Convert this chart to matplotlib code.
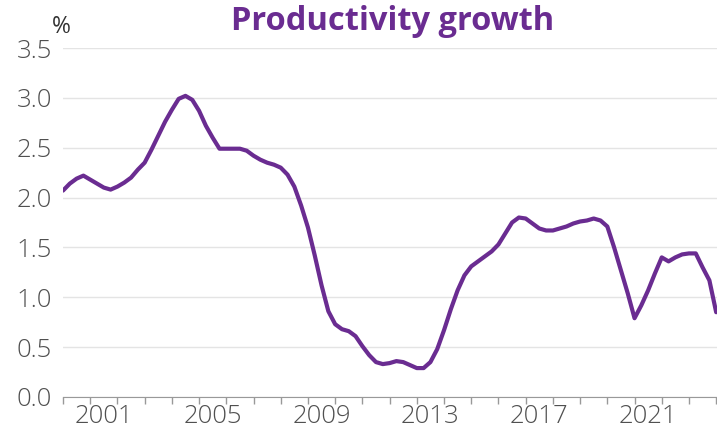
import numpy as np
import matplotlib.pyplot as plt

# Quarterly productivity growth (%), 2000Q1 onward
start_year = 2000
growth = [
    2.07, 2.14, 2.19, 2.22, 2.18, 2.14, 2.10, 2.08,
    2.11, 2.15, 2.20, 2.28, 2.35, 2.48, 2.62, 2.76,
    2.88, 2.99, 3.02, 2.98, 2.87, 2.72, 2.60, 2.49,
    2.49, 2.49, 2.49, 2.47, 2.42, 2.38, 2.35, 2.33,
    2.30, 2.23, 2.11, 1.92, 1.70, 1.42, 1.12, 0.86,
    0.73, 0.68, 0.66, 0.61, 0.51, 0.42, 0.35, 0.33,
    0.34, 0.36, 0.35, 0.32, 0.29, 0.29, 0.35, 0.48,
    0.67, 0.88, 1.07, 1.22, 1.31, 1.36, 1.41, 1.46,
    1.53, 1.64, 1.75, 1.80, 1.79, 1.74, 1.69, 1.67,
    1.67, 1.69, 1.71, 1.74, 1.76, 1.77, 1.79, 1.77,
    1.71, 1.50, 1.27, 1.04, 0.79, 0.92, 1.07, 1.24,
    1.40, 1.36, 1.40, 1.43, 1.44, 1.44, 1.30, 1.17,
    0.85,
]
label_years = [2001, 2005, 2009, 2013, 2017, 2021]
y_ticks = [0.0, 0.5, 1.0, 1.5, 2.0, 2.5, 3.0, 3.5]

purple = '#6a2c91'
plt.rcParams['font.family'] = ['Open Sans', 'DejaVu Sans']

t = start_year + np.arange(len(growth)) / 4

fig = plt.figure(figsize=(7.17, 4.29), dpi=100)
ax = fig.add_axes([63 / 717, 1 - 397 / 429, 1 - 63 / 717, (397 - 48) / 429])

ax.plot(t, growth, color=purple, lw=3.0, solid_capstyle='round', zorder=3)

ax.set_xlim(2000, 2024.03)
ax.set_ylim(0, 3.5)
ax.set_yticks(y_ticks)
ax.set_yticklabels([f'{v:.1f}' for v in y_ticks])
ax.grid(axis='y', color='#e4e4e4', lw=1)
ax.set_axisbelow(True)

# year boundaries get tick marks, labels sit mid-year
ax.set_xticks(np.arange(2000, 2025))
ax.set_xticklabels([])
ax.set_xticks([y + 0.5 for y in label_years], minor=True)
ax.set_xticklabels([str(y) for y in label_years], minor=True)
ax.tick_params(axis='x', which='major', length=5, color='#999999', width=1)
ax.tick_params(axis='x', which='minor', length=0, pad=5,
               labelsize=18.5, labelcolor='#505050')
ax.tick_params(axis='y', length=0, pad=8, labelsize=18.5, labelcolor='#505050')
for lbl in ax.get_xticklabels(minor=True) + ax.get_yticklabels():
    lbl.set_fontweight('light')

for side in ['top', 'right', 'left']:
    ax.spines[side].set_visible(False)
ax.spines['bottom'].set_color('#999999')

fig.text(52 / 717, 1 - 27 / 429, '%', fontsize=16.5, color='#333333',
         va='center', ha='left')
fig.text(393 / 717, 1 - 22 / 429, 'Productivity growth', fontsize=23.5,
         fontweight='bold', color=purple, ha='center', va='center')

fig.savefig('out.png', dpi=100)
